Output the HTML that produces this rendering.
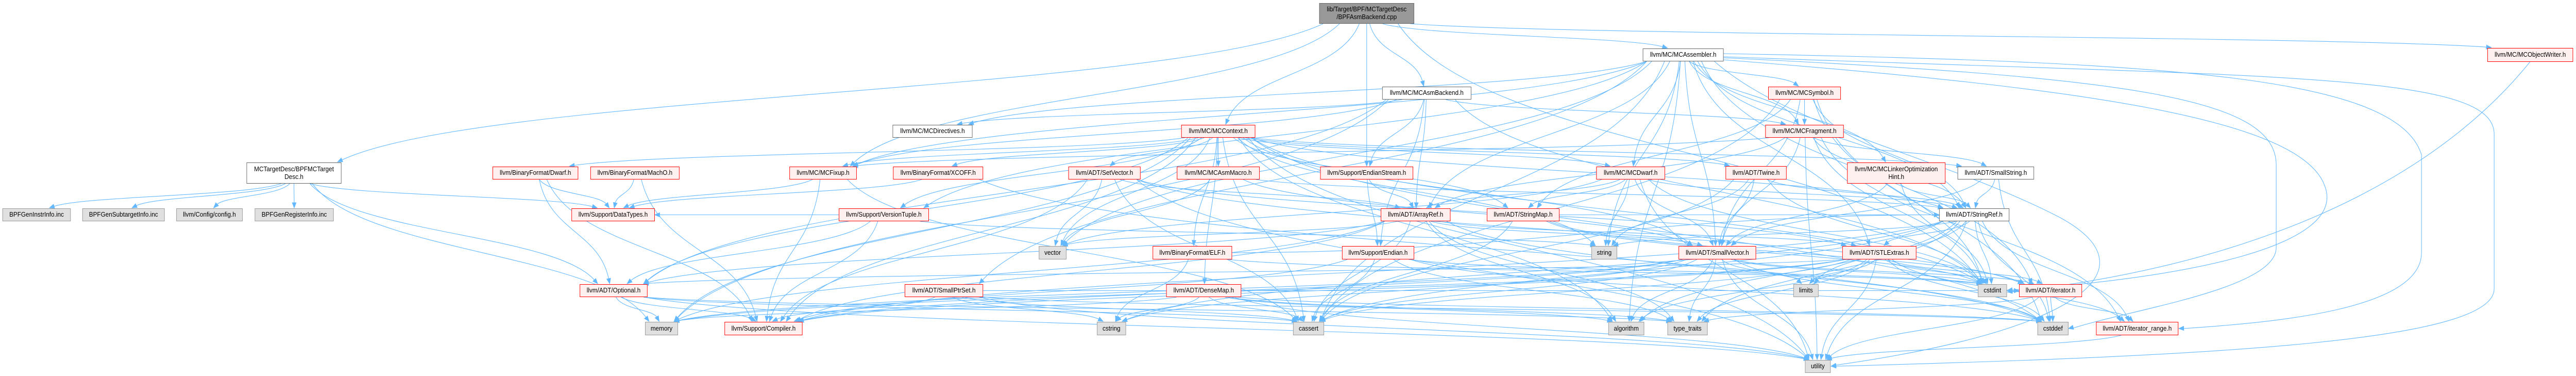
<!DOCTYPE html>
<html><head><meta charset="utf-8"><style>
html,body{margin:0;padding:0;background:#fff;overflow:hidden;}
#c{position:absolute;left:0;top:0;width:5319px;height:729px;overflow:hidden;transform-origin:0 0;}
svg{position:absolute;left:0;top:0;display:block;}
.n{position:absolute;box-sizing:border-box;display:flex;align-items:center;justify-content:center;text-align:center;font-family:"Liberation Sans",sans-serif;font-size:12.5px;line-height:15px;color:#000;white-space:nowrap;overflow:hidden;}
.w{background:#fff;border:1.5px solid #666;}
.r{background:#fff0f0;border:1.5px solid #f00;}
.g{background:#e0e0e0;border:1.5px solid #999;}
.root{background:#999;border:1.5px solid #666;}
</style></head><body><div id="c">
<svg id="s" width="5319" height="729" viewBox="0 0 5319 729"></svg>
<div class="n root" style="left:2724px;top:6px;width:196px;height:40px">lib/Target/BPF/MCTargetDesc<br>/BPFAsmBackend.cpp</div>
<div class="n w" style="left:509px;top:315px;width:196px;height:41px">MCTargetDesc/BPFMCTarget<br>Desc.h</div>
<div class="n g" style="left:5px;top:404px;width:141px;height:25px">BPFGenInstrInfo.inc</div>
<div class="n g" style="left:170px;top:404px;width:170px;height:25px">BPFGenSubtargetInfo.inc</div>
<div class="n g" style="left:364px;top:404px;width:137px;height:25px">llvm/Config/config.h</div>
<div class="n g" style="left:526px;top:404px;width:163px;height:25px">BPFGenRegisterInfo.inc</div>
<div class="n r" style="left:1017px;top:323px;width:177px;height:25px">llvm/BinaryFormat/Dwarf.h</div>
<div class="n r" style="left:1219px;top:323px;width:184px;height:25px">llvm/BinaryFormat/MachO.h</div>
<div class="n r" style="left:1630px;top:323px;width:139px;height:25px">llvm/MC/MCFixup.h</div>
<div class="n r" style="left:1180px;top:404px;width:172px;height:25px">llvm/Support/DataTypes.h</div>
<div class="n r" style="left:1732px;top:404px;width:186px;height:25px">llvm/Support/VersionTuple.h</div>
<div class="n r" style="left:1197px;top:551px;width:140px;height:25px">llvm/ADT/Optional.h</div>
<div class="n g" style="left:1332px;top:624px;width:68px;height:26px">memory</div>
<div class="n r" style="left:1496px;top:624px;width:161px;height:26px">llvm/Support/Compiler.h</div>
<div class="n w" style="left:1843px;top:242px;width:165px;height:25px">llvm/MC/MCDirectives.h</div>
<div class="n r" style="left:2439px;top:242px;width:153px;height:25px">llvm/MC/MCContext.h</div>
<div class="n r" style="left:1844px;top:323px;width:186px;height:25px">llvm/BinaryFormat/XCOFF.h</div>
<div class="n r" style="left:2206px;top:323px;width:149px;height:25px">llvm/ADT/SetVector.h</div>
<div class="n r" style="left:2430px;top:323px;width:171px;height:25px">llvm/MC/MCAsmMacro.h</div>
<div class="n g" style="left:2145px;top:477px;width:57px;height:26px">vector</div>
<div class="n r" style="left:2380px;top:477px;width:164px;height:26px">llvm/BinaryFormat/ELF.h</div>
<div class="n r" style="left:1868px;top:551px;width:162px;height:25px">llvm/ADT/SmallPtrSet.h</div>
<div class="n r" style="left:2408px;top:551px;width:155px;height:25px">llvm/ADT/DenseMap.h</div>
<div class="n g" style="left:2265px;top:624px;width:60px;height:26px">cstring</div>
<div class="n g" style="left:2670px;top:624px;width:64px;height:26px">cassert</div>
<div class="n w" style="left:3392px;top:94px;width:167px;height:25px">llvm/MC/MCAssembler.h</div>
<div class="n w" style="left:2854px;top:168px;width:184px;height:25px">llvm/MC/MCAsmBackend.h</div>
<div class="n r" style="left:2726px;top:323px;width:192px;height:25px">llvm/Support/EndianStream.h</div>
<div class="n r" style="left:3296px;top:323px;width:142px;height:25px">llvm/MC/MCDwarf.h</div>
<div class="n r" style="left:2851px;top:404px;width:144px;height:25px">llvm/ADT/ArrayRef.h</div>
<div class="n r" style="left:3070px;top:404px;width:150px;height:25px">llvm/ADT/StringMap.h</div>
<div class="n r" style="left:2771px;top:477px;width:149px;height:26px">llvm/Support/Endian.h</div>
<div class="n g" style="left:3286px;top:477px;width:53px;height:26px">string</div>
<div class="n r" style="left:3466px;top:477px;width:160px;height:26px">llvm/ADT/SmallVector.h</div>
<div class="n g" style="left:3321px;top:624px;width:74px;height:26px">algorithm</div>
<div class="n g" style="left:3443px;top:624px;width:83px;height:26px">type_traits</div>
<div class="n r" style="left:3651px;top:168px;width:150px;height:25px">llvm/MC/MCSymbol.h</div>
<div class="n r" style="left:3645px;top:242px;width:162px;height:25px">llvm/MC/MCFragment.h</div>
<div class="n r" style="left:3563px;top:322px;width:126px;height:26px">llvm/ADT/Twine.h</div>
<div class="n r" style="left:3814px;top:315px;width:203px;height:41px">llvm/MC/MCLinkerOptimization<br>Hint.h</div>
<div class="n w" style="left:4042px;top:323px;width:158px;height:25px">llvm/ADT/SmallString.h</div>
<div class="n w" style="left:4004px;top:404px;width:145px;height:25px">llvm/ADT/StringRef.h</div>
<div class="n r" style="left:3804px;top:477px;width:153px;height:26px">llvm/ADT/STLExtras.h</div>
<div class="n g" style="left:3703px;top:551px;width:52px;height:25px">limits</div>
<div class="n g" style="left:4084px;top:551px;width:60px;height:25px">cstdint</div>
<div class="n r" style="left:4169px;top:551px;width:130px;height:25px">llvm/ADT/iterator.h</div>
<div class="n g" style="left:4207px;top:624px;width:64px;height:26px">cstddef</div>
<div class="n r" style="left:4328px;top:624px;width:170px;height:26px">llvm/ADT/iterator_range.h</div>
<div class="n g" style="left:3727px;top:698px;width:53px;height:25px">utility</div>
<div class="n r" style="left:5136px;top:93px;width:177px;height:27px">llvm/MC/MCObjectWriter.h</div>
</div>
<script>
function fit(){var w=window.innerWidth||document.documentElement.clientWidth||5319,h=window.innerHeight||document.documentElement.clientHeight||729;
var el=document.getElementById('c');if(Math.abs(w-5319)>2||Math.abs(h-729)>2){el.style.transform='scale('+(w/5319)+','+(h/729)+')';}else{el.style.transform='none';}}
fit();window.addEventListener('resize',fit);
var N={root:[2724,6,196,40],tdesc:[509,315,196,41],gi:[5,404,141,25],gs:[170,404,170,25],cfg:[364,404,137,25],gr:[526,404,163,25],
dwarf:[1017,323,177,25],macho:[1219,323,184,25],fixup:[1630,323,139,25],dt:[1180,404,172,25],vt:[1732,404,186,25],opt:[1197,551,140,25],
mem:[1332,624,68,26],comp:[1496,624,161,26],dir:[1843,242,165,25],ctx:[2439,242,153,25],xcoff:[1844,323,186,25],setv:[2206,323,149,25],
macro:[2430,323,171,25],vec:[2145,477,57,26],elf:[2380,477,164,26],sps:[1868,551,162,25],dm:[2408,551,155,25],cstr:[2265,624,60,26],
cas:[2670,624,64,26],asm:[3392,94,167,25],ab:[2854,168,184,25],es:[2726,323,192,25],dwf:[3296,323,142,25],ar:[2851,404,144,25],
smap:[3070,404,150,25],end:[2771,477,149,26],str:[3286,477,53,26],sv:[3466,477,160,26],alg:[3321,624,74,26],tt:[3443,624,83,26],
sym:[3651,168,150,25],frag:[3645,242,162,25],tw:[3563,322,126,26],loh:[3814,315,203,41],ss:[4042,323,158,25],sr:[4004,404,145,25],
stl:[3804,477,153,26],lim:[3703,551,52,25],ci:[4084,551,60,25],it:[4169,551,130,25],cd:[4207,624,64,26],ir:[4328,624,170,26],
ut:[3727,698,53,25],ow:[5136,93,177,27]};
var E={root:"tdesc ab asm ctx fixup ow es ci",
tdesc:"gi gs cfg gr dt mem opt",
ab:"ar opt dir fixup frag end ci mem es",
asm:"ar stl sps sv sr it dir dwf fixup frag loh sym vt alg cas str vec",
ctx:"dm opt setv ss sv smap sr tw dwarf elf xcoff macro dwf vt alg cas cd ci mem str ut vec comp fixup",
sym:"frag smap sr sv cas cd ci",
frag:"ar ss sv sr ir fixup ci ut",
fixup:"dt comp cas",
dwarf:"dt opt comp",macho:"dt comp",xcoff:"dt cd",
setv:"vec ar stl comp cas it ut",
macro:"vec sr sv",
dwf:"smap ar str sv sr ut vec ci",
tw:"sv sr cas ci str",loh:"sv sr ci",ss:"sr sv cd",
sr:"stl ir comp alg cas cd cstr lim str tt ut ci",
es:"ar end",ar:"opt sv stl comp alg cas cd mem tt vec",
smap:"sr it cas ci",vt:"opt str dt comp",elf:"sr ci cstr",
end:"comp cas cd ci tt",
sv:"comp alg cas cd ci cstr it lim mem tt ut",
stl:"opt it ir comp alg cas cd ci lim mem tt ut",
opt:"comp tt mem ut cas",
sps:"comp cas cd cstr it ut",
dm:"cas cd cstr alg it tt ut mem",
it:"ir cd tt ut",ir:"ut"};
var s='',C='#63b8ff';
function cl(v,lo,hi){return Math.max(lo,Math.min(hi,v));}
function arrow(x,y,px,py){var dx=x-px,dy=y-py,l=Math.sqrt(dx*dx+dy*dy)||1;dx/=l;dy/=l;
var bx=x-dx*10,by=y-dy*10;return '<polygon points="'+x+','+y+' '+(bx-dy*4)+','+(by+dx*4)+' '+(bx+dy*4)+','+(by-dx*4)+'" fill="'+C+'" stroke="'+C+'"/>';}
for(var k in E){E[k].split(' ').forEach(function(t){var a=N[k],b=N[t];if(!a||!b)return;
var acx=a[0]+a[2]/2,bcx=b[0]+b[2]/2,sx,sy,tx,ty,c1x,c1y,c2x,c2y;
if(b[1]>a[1]+a[3]-2){var off=cl((bcx-acx)*0.05,-a[2]/2+8,a[2]/2-8);sx=acx+off;sy=a[1]+a[3];
var off2=cl((acx-bcx)*0.05,-b[2]/2+8,b[2]/2-8);tx=bcx+off2;ty=b[1];
var h=ty-sy;c1x=sx+(tx-sx)*0.15;c1y=sy+h*0.5;c2x=tx-(tx-sx)*0.15;c2y=ty-h*0.5;ty-=1;}
else{var dir=bcx>acx?1:-1;sx=dir>0?a[0]+a[2]:a[0];sy=a[1]+a[3]/2;tx=dir>0?b[0]:b[0]+b[2];ty=b[1]+b[3]/2;
c1x=sx+(tx-sx)*0.4;c1y=sy;c2x=tx-(tx-sx)*0.4;c2y=ty;}
tx=cl(tx,1,5318);c2x=cl(c2x,1,5318);
var l=Math.hypot(tx-c2x,ty-c2y)||1;var lx=tx-(tx-c2x)/l*9,ly=ty-(ty-c2y)/l*9;
s+='<path d="M'+sx+','+sy+' C'+c1x+','+c1y+' '+c2x+','+c2y+' '+lx+','+ly+'" fill="none" stroke="'+C+'" stroke-width="1.1"/>';
s+=arrow(tx,ty,c2x,c2y);});}
/* long right-side loops */
var L=[
["M3559,110 C4700,150 5150,140 5150,260 L5150,560 C5150,660 4600,690 3790,710",3781,710,3900,706],
["M3559,104 C4500,120 4950,150 5000,300 L5000,490 C5000,600 4700,625 4508,637",4499,637,4600,632],
["M3559,116 C4300,170 4750,230 4800,360 C4850,480 4500,540 4154,562",4145,563,4250,550],
["M3559,112 C4400,150 4700,190 4700,320 L4700,480 C4700,560 4400,600 4281,636",4271,637,4380,610],
["M5224,120 C5000,380 4600,520 4154,566",4145,566,4250,555],
["M3540,119 C3700,250 4000,300 4250,420 C4450,520 4300,640 3790,708",3781,710,3900,690]];
L.forEach(function(p){s+='<path d="'+p[0]+'" fill="none" stroke="'+C+'" stroke-width="1.1"/>'+arrow(p[1],p[2],p[3],p[4]);});
document.getElementById('s').innerHTML=s;
</script>
</body></html>
